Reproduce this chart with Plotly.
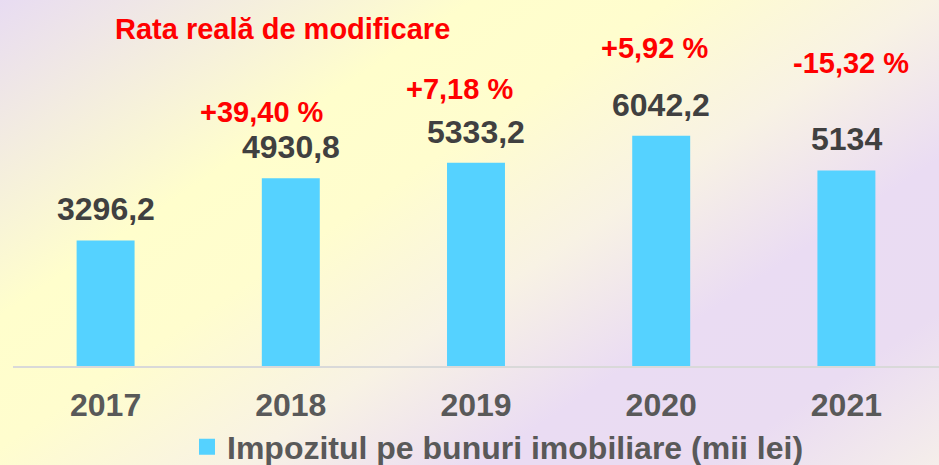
import base64
import plotly.graph_objects as go

# ---- data ----
years = ["2017", "2018", "2019", "2020", "2021"]
values = [3296.2, 4930.8, 5333.2, 6042.2, 5134]
value_labels = ["3296,2", "4930,8", "5333,2", "6042,2", "5134"]
change_years = ["2018", "2019", "2020", "2021"]
change_labels = ["+39,40 %", "+7,18 %", "+5,92 %", "-15,32 %"]
series_name = "Impozitul pe bunuri imobiliare (mii lei)"
note_title = "Rata reală de modificare"

# ---- style ----
W, H = 939, 465
ML, MR, MT, MB = 13, 0, 0, 99
PW, PH = W - ML - MR, H - MT - MB
FONT = "Liberation Sans, Arial, sans-serif"
BAR_COLOR = "#55D2FF"
RED = "#FF0000"

# pixel positions of the red change labels (centre x, centre y)
change_px = [(262, 112), (459, 89), (654, 48), (851, 63)]


def px_to_paper(xp, yp):
    return (xp - ML) / PW, (MT + PH - yp) / PH


svg = f"""<svg xmlns='http://www.w3.org/2000/svg' width='{W}' height='{H}' viewBox='0 0 {W} {H}' preserveAspectRatio='none'>
<defs><linearGradient id='g' gradientUnits='userSpaceOnUse' x1='0' y1='0' x2='503' y2='755'>
<stop offset='0' stop-color='#E8DCF2'/>
<stop offset='0.29' stop-color='#FFFECC'/>
<stop offset='0.41' stop-color='#FFFDCE'/>
<stop offset='0.57' stop-color='#F8F2E4'/>
<stop offset='0.72' stop-color='#EADCF3'/>
<stop offset='0.86' stop-color='#EADCF2'/>
<stop offset='1' stop-color='#F5EEEA'/>
</linearGradient></defs>
<rect x='0' y='0' width='{W}' height='{H}' fill='url(#g)'/></svg>"""
bg_uri = "data:image/svg+xml;base64," + base64.b64encode(svg.encode()).decode()

fig = go.Figure()
fig.add_trace(go.Bar(
    x=years, y=values, name=series_name,
    marker=dict(color=BAR_COLOR, line=dict(width=0)),
    showlegend=False,
))
# legend-only entry with a larger square symbol
fig.add_trace(go.Scatter(
    x=[None], y=[None], mode="markers", name=series_name,
    marker=dict(symbol="square", size=17, color=BAR_COLOR),
    showlegend=True, hoverinfo="skip",
))

annotations = []
for i, (v, lab) in enumerate(zip(values, value_labels)):
    annotations.append(dict(
        x=i, y=v, xref="x", yref="y", text=lab, showarrow=False,
        yanchor="middle", yshift=31,
        font=dict(family=FONT, size=32, color="#404040", weight="bold"),
    ))
for lab, (xp, yp) in zip(change_labels, change_px):
    xpp, ypp = px_to_paper(xp, yp)
    annotations.append(dict(
        x=xpp, y=ypp, xref="paper", yref="paper", text=lab, showarrow=False,
        xanchor="center", yanchor="middle",
        font=dict(family=FONT, size=29, color=RED, weight="bold"),
    ))
tx, ty = px_to_paper(282, 29)
annotations.append(dict(
    x=tx, y=ty, xref="paper", yref="paper", text=note_title, showarrow=False,
    xanchor="center", yanchor="middle",
    font=dict(family=FONT, size=29, color=RED, weight="bold"),
))

lx, ly = px_to_paper(187, 447)
fig.update_layout(
    width=W, height=H,
    margin=dict(l=ML, r=MR, t=MT, b=MB, pad=0, autoexpand=False),
    paper_bgcolor="rgba(0,0,0,0)",
    plot_bgcolor="rgba(0,0,0,0)",
    bargap=0.687,
    images=[dict(
        source=bg_uri, xref="paper", yref="paper",
        x=-ML / PW, y=1 + MT / PH, sizex=W / PW, sizey=H / PH,
        xanchor="left", yanchor="top", sizing="stretch", layer="below",
    )],
    xaxis=dict(
        type="category",
        showline=True, linecolor="#D9D9D9", linewidth=2,
        showgrid=False, zeroline=False, ticks="",
        ticklabelstandoff=10,
        tickfont=dict(family=FONT, size=32, color="#595959", weight="bold"),
        range=[-0.5, 4.5], fixedrange=True,
    ),
    yaxis=dict(visible=False, range=[0, 9606], showgrid=False, zeroline=False),
    showlegend=True,
    legend=dict(
        orientation="h", x=lx, y=ly, xanchor="left", yanchor="middle",
        bgcolor="rgba(0,0,0,0)", itemsizing="trace",
        font=dict(family=FONT, size=32, color="#595959", weight="bold"),
    ),
    annotations=annotations,
)

fig.write_html(
    "out.html",
    config={"displayModeBar": False},
    post_script="document.body.style.margin='0';document.body.style.overflow='hidden';",
)
